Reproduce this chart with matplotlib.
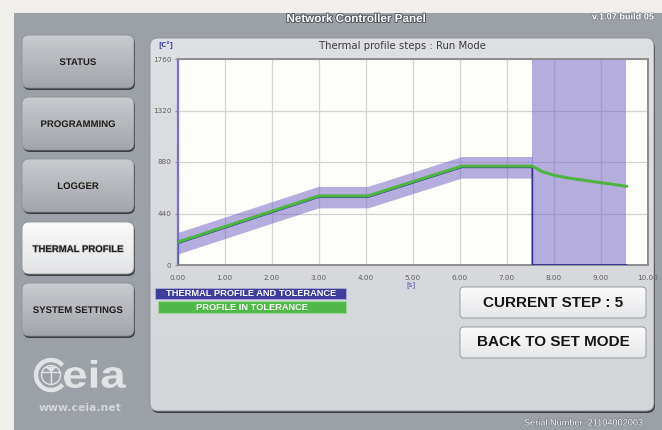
import numpy as np
import matplotlib
matplotlib.use("Agg")
import matplotlib.pyplot as plt
from matplotlib.patches import FancyBboxPatch, Rectangle, Circle, Arc, PathPatch, Polygon
from matplotlib.textpath import TextPath
from matplotlib.font_manager import FontProperties
from matplotlib.transforms import Affine2D
import matplotlib.patheffects as pe

# ---------------- data ----------------
profile_time = [0, 0, 3.0, 4.05, 6.05, 7.55, 7.55, 9.55]
profile_temp = [0, 185, 580, 580, 835, 835, 0, 0]
band_time = [0, 3.0, 4.05, 6.05, 7.55]
band_center = [185, 580, 580, 835, 835]
tolerance = 92
measured_time = [0, 3.0, 4.05, 6.05, 7.55, 7.75, 8.0, 8.25, 8.5, 8.75, 9.0, 9.25, 9.55]
measured_temp = [195, 590, 590, 845, 845, 800, 768, 748, 732, 718, 704, 690, 672]
run_window = [7.55, 9.55]
x_ticks = [0, 1, 2, 3, 4, 5, 6, 7, 8, 9, 10]
y_ticks = [0, 440, 880, 1320, 1760]
menu_labels = ["STATUS", "PROGRAMMING", "LOGGER", "THERMAL PROFILE", "SYSTEM SETTINGS"]
active_menu = "THERMAL PROFILE"
legend_labels = ["THERMAL PROFILE AND TOLERANCE", "PROFILE IN TOLERANCE"]
current_step = 5

W, H = 662, 430
fig = plt.figure(figsize=(W / 100, H / 100), dpi=100)
fig.patch.set_facecolor("#f1efeb")

bg = fig.add_axes([0, 0, 1, 1])
bg.set_xlim(0, W)
bg.set_ylim(H, 0)
bg.axis("off")

FONT = "Liberation Sans"

# outer gray frame
bg.add_patch(Rectangle((14, 13), W - 14, H - 13, facecolor="#9ca0a7", edgecolor="none", zorder=0))

def gradient_box(x, y, w, h, c_top, c_bot, rad=6, shadow=True, z=1):
    if shadow:
        sh = FancyBboxPatch((x + 1, y + 2), w, h, boxstyle=f"round,pad=0,rounding_size={rad}",
                            facecolor="#3c3d40", edgecolor="none", zorder=z)
        bg.add_patch(sh)
    box = FancyBboxPatch((x, y), w, h, boxstyle=f"round,pad=0,rounding_size={rad}",
                         facecolor="none", edgecolor="#8e9197", linewidth=0.6, zorder=z + 2)
    bg.add_patch(box)
    c1 = np.array(matplotlib.colors.to_rgb(c_top))
    c2 = np.array(matplotlib.colors.to_rgb(c_bot))
    t = np.linspace(0, 1, 64)[:, None]
    grad = (c1 * (1 - t) + c2 * t)[:, None, :]
    im = bg.imshow(grad, extent=(x, x + w, y + h, y), aspect="auto", zorder=z + 1,
                   interpolation="bilinear")
    clip = FancyBboxPatch((x, y), w, h, boxstyle=f"round,pad=0,rounding_size={rad}",
                          facecolor="none", edgecolor="none", transform=bg.transData)
    bg.add_patch(clip)
    im.set_clip_path(clip)

# main inner panel
gradient_box(150, 38, 504, 373, "#dfe0e3", "#d3d5d8", rad=8, z=1)

# left menu buttons
btn_y = [35, 97, 159, 222, 283]
for lab, yy in zip(menu_labels, btn_y):
    if lab == active_menu:
        gradient_box(22, yy, 112, 52, "#fbfbfb", "#e2e3e5", rad=7, z=1)
    else:
        gradient_box(22, yy, 112, 53, "#c9cbcf", "#a2a5ab", rad=7, z=1)
    bg.text(78, yy + 27, lab, ha="center", va="center", fontsize=6.9, fontweight="bold",
            color="#1e1e1e", family=FONT, zorder=10,
            path_effects=[pe.withStroke(linewidth=1.0, foreground="#b8b8b8")])

# right buttons
gradient_box(460, 287, 186, 31, "#fbfbfb", "#e6e7e9", rad=4, shadow=False, z=3)
gradient_box(460, 327, 186, 31, "#fbfbfb", "#e6e7e9", rad=4, shadow=False, z=3)
bg.text(553, 303, f"CURRENT STEP : {current_step}", ha="center", va="center", fontsize=11,
        fontweight="bold", color="#161616", family=FONT, zorder=10)
bg.text(553, 342.5, "BACK TO SET MODE", ha="center", va="center", fontsize=11,
        fontweight="bold", color="#161616", family=FONT, zorder=10)

# legend boxes
bg.add_patch(Rectangle((155, 288), 191, 11, facecolor="#3e3f9c", edgecolor="#b0b0d8", lw=0.5, zorder=5))
bg.add_patch(Rectangle((158, 301), 188, 12, facecolor="#4fb847", edgecolor="#a8d8a0", lw=0.5, zorder=5))
bg.text(251, 293.8, legend_labels[0], ha="center", va="center", fontsize=6.7, fontweight="bold",
        color="white", family=FONT, zorder=6)
bg.text(252, 307.3, legend_labels[1], ha="center", va="center", fontsize=6.7, fontweight="bold",
        color="white", family=FONT, zorder=6)

# header texts
bg.text(356, 19, "Network Controller Panel", ha="center", va="center", fontsize=8.4,
        fontweight="bold", color="white", family=FONT, zorder=6,
        path_effects=[pe.withStroke(linewidth=1.4, foreground="#55595f")])
bg.text(592, 17, "v.1.07 build 05", ha="left", va="center", fontsize=6.6, fontweight="bold",
        color="white", family=FONT, zorder=6,
        path_effects=[pe.withStroke(linewidth=0.8, foreground="#70747a")])
bg.text(524, 423, "Serial Number: 21104002003", ha="left", va="center", fontsize=6.6,
        color="white", family=FONT, zorder=6,
        path_effects=[pe.withStroke(linewidth=0.8, foreground="#70747a")])

# logo
lc = "#e2e3e5"
bg.add_patch(Arc((51, 375), 30, 30, theta1=40, theta2=320, edgecolor=lc, lw=3.2, zorder=5))
bg.add_patch(Circle((51, 375), 9.5, facecolor="none", edgecolor=lc, lw=1.0, zorder=5))
bg.plot([42, 60], [372, 372], color=lc, lw=1.0, zorder=5)
bg.plot([51, 51], [366, 384], color=lc, lw=1.0, zorder=5)
bg.add_patch(Polygon([[45, 367], [57, 367], [51, 372]], closed=True, facecolor=lc,
                     edgecolor="none", zorder=5))
tp = TextPath((0, 0), "eia", prop=FontProperties(family=FONT, weight="bold"), size=20)
bb = tp.get_extents()
tx0, tx1, ty0, ty1 = 64, 126, 360, 388
tr = (Affine2D().translate(-bb.x0, -bb.y0)
      .scale((tx1 - tx0) / bb.width, -(ty1 - ty0) / bb.height)
      .translate(tx0, ty1))
bg.add_patch(PathPatch(tr.transform_path(tp), facecolor=lc, edgecolor="none", zorder=5))
bg.text(80.5, 408, "www.ceia.net", ha="center", va="center", fontsize=7.8, fontweight="bold",
        color="#d3d5d8", family="DejaVu Sans", zorder=5)

# chart title + units
bg.text(402, 46, "Thermal profile steps : Run Mode", ha="center", va="center", fontsize=7.3,
        color="#3e3e3e", family="DejaVu Sans", zorder=6)
bg.text(158, 45, "[C°]", ha="left", va="center", fontsize=5, color="#4040b0",
        family="DejaVu Sans", fontweight="bold", zorder=6)
bg.text(411, 285, "[s]", ha="center", va="center", fontsize=5, color="#4040b0",
        family="DejaVu Sans", zorder=6)

# ---------------- chart axes ----------------
x0, x1, y0, y1 = 177.5, 647.5, 59, 265
ax = fig.add_axes([x0 / W, 1 - y1 / H, (x1 - x0) / W, (y1 - y0) / H], zorder=5)
ax.set_facecolor("#fdfdf9")
ax.set_xlim(0, 10)
ax.set_ylim(0, 1760)
ax.set_xticks(x_ticks)
ax.set_yticks(y_ticks)
ax.set_xticklabels([f"{v:.2f}" for v in x_ticks])
ax.set_yticklabels([str(v) for v in y_ticks])
ax.grid(True, color="#d2d2d2", lw=0.9)
ax.set_axisbelow(True)
ax.tick_params(axis="x", length=0, pad=7, labelsize=5.2, labelcolor="#606060")
ax.tick_params(axis="y", length=2.5, pad=2, labelsize=5.2, labelcolor="#606060", color="#888888")
for lbl in ax.get_xticklabels() + ax.get_yticklabels():
    lbl.set_family("DejaVu Sans")
for s in ["top", "right", "bottom"]:
    ax.spines[s].set_color("#8d8d8d")
    ax.spines[s].set_linewidth(1.4)
ax.spines["left"].set_color("#7a70d0")
ax.spines["left"].set_linewidth(1.6)

band_c = np.array(band_center)
ax.fill_between(band_time, band_c - tolerance, band_c + tolerance, color="#7a6bc6", alpha=0.55,
                lw=0, zorder=2)
ax.axvspan(run_window[0], run_window[1], color="#7a6bc6", alpha=0.55, lw=0, zorder=2)
ax.plot(profile_time, profile_temp, color="#35369a", lw=1.3, zorder=3, solid_joinstyle="miter")
ax.plot(measured_time, measured_temp, color="#4db540", lw=2.2, zorder=4)

fig.savefig("out.png", dpi=100, facecolor=fig.get_facecolor())
